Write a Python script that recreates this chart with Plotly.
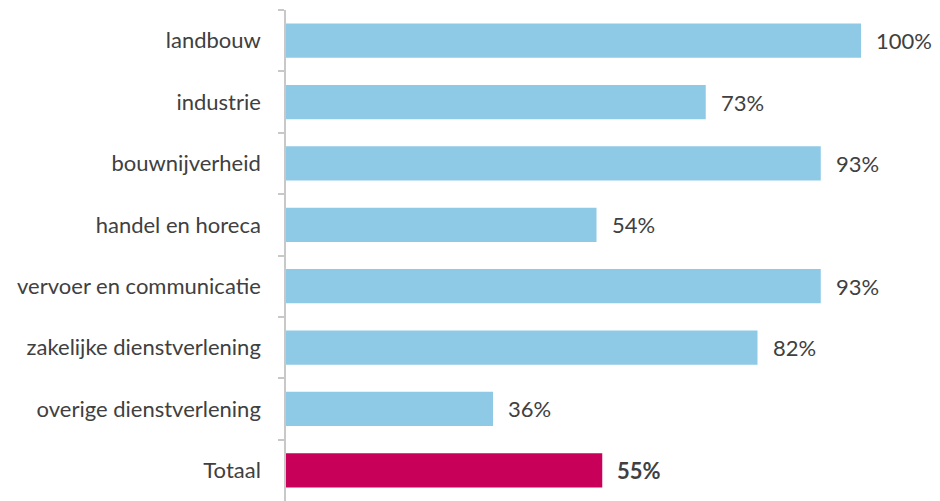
import plotly.graph_objects as go

categories = ["landbouw", "industrie", "bouwnijverheid", "handel en horeca",
              "vervoer en communicatie", "zakelijke dienstverlening",
              "overige dienstverlening", "Totaal"]
values = [100, 73, 93, 54, 93, 82, 36, 55]
colors = ["#8ECAE6"] * 7 + ["#C8005A"]
labels = [f"{v}%" for v in values]

fig = go.Figure()
fig.add_trace(go.Bar(
    y=categories, x=values, orientation="h",
    marker=dict(color=colors, line=dict(width=0)),
    width=0.56, hoverinfo="skip",
))

for c, v, t in zip(categories, values, labels):
    bold = c == "Totaal"
    fig.add_annotation(
        x=v, y=c, xref="x", yref="y", text=f"<b>{t}</b>" if bold else t,
        showarrow=False, xanchor="left", xshift=13,
        font=dict(family="Lato", size=22, color="#404040"),
    )

fig.update_layout(
    width=932, height=493,
    margin=dict(l=278, r=4, t=2, b=0, autoexpand=False),
    plot_bgcolor="white", paper_bgcolor="white",
    showlegend=False,
    xaxis=dict(range=[0, 113.04], visible=False, fixedrange=True, automargin=False),
    yaxis=dict(
        categoryorder="array", categoryarray=categories, autorange="reversed",
        automargin=False,
        showline=True, linecolor="#C8C8C8", linewidth=1.5,
        ticks="outside", tickson="boundaries", ticklen=6, tickcolor="#C8C8C8",
        tickwidth=1.5, ticklabelstandoff=19,
        tickfont=dict(family="Lato", size=22, color="#404040"),
        showgrid=False, zeroline=False,
    ),
)

fig.write_html("out.html")
